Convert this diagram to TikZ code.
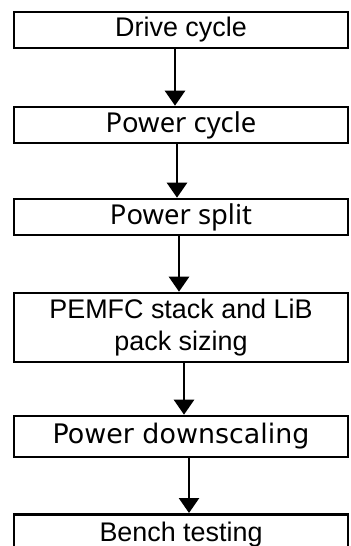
\documentclass[tikz,border=0pt]{standalone}
\usepackage{fontspec}
\setmainfont{Liberation Sans}
\newfontfamily\notofont{Noto Sans}
\newfontfamily\dejavufont{DejaVu Sans}
\usetikzlibrary{arrows.meta}
\begin{document}
\begin{tikzpicture}[x=1bp,y=-1bp,
  box/.style={draw=black, line width=2.6bp, rectangle, minimum width=334bp, inner sep=0pt, align=center, font=\fontsize{27}{32}\selectfont},
  nfont/.style={font=\notofont\fontsize{27.5}{32}\selectfont},
  arr/.style={line width=2.6bp, -{Triangle[width=20bp,length=15bp]}}]
\useasboundingbox (0,0) rectangle (350,546);
\clip (0,0) rectangle (350,546);
\node[box, minimum height=36bp] (a) at (181,30) {Drive cycle};
\node[box, minimum height=36bp, nfont] (b) at (181,125) {Power cycle};
\node[box, minimum height=36bp, nfont] (c) at (181,217) {Power split};
\node[box, minimum height=69bp] (d) at (181,327.5) {PEMFC stack and LiB\\pack sizing};
\node[box, minimum height=41bp, font=\dejavufont\fontsize{27}{32}\selectfont] (e) at (181,436.5) {Power downscaling};
\node[box, minimum height=40bp, anchor=north] (f) at (181,513) {Bench testing};
\draw[arr] ([xshift=-6bp]a.south) -- ([xshift=-6bp]b.north);
\draw[arr] ([xshift=-4bp]b.south) -- ([xshift=-4bp]c.north);
\draw[arr] ([xshift=-2bp]c.south) -- ([xshift=-2bp]d.north);
\draw[arr] ([xshift=3bp]d.south) -- ([xshift=3bp]e.north);
\draw[arr] ([xshift=8bp]e.south) -- ([xshift=8bp]f.north);
\end{tikzpicture}
\end{document}
